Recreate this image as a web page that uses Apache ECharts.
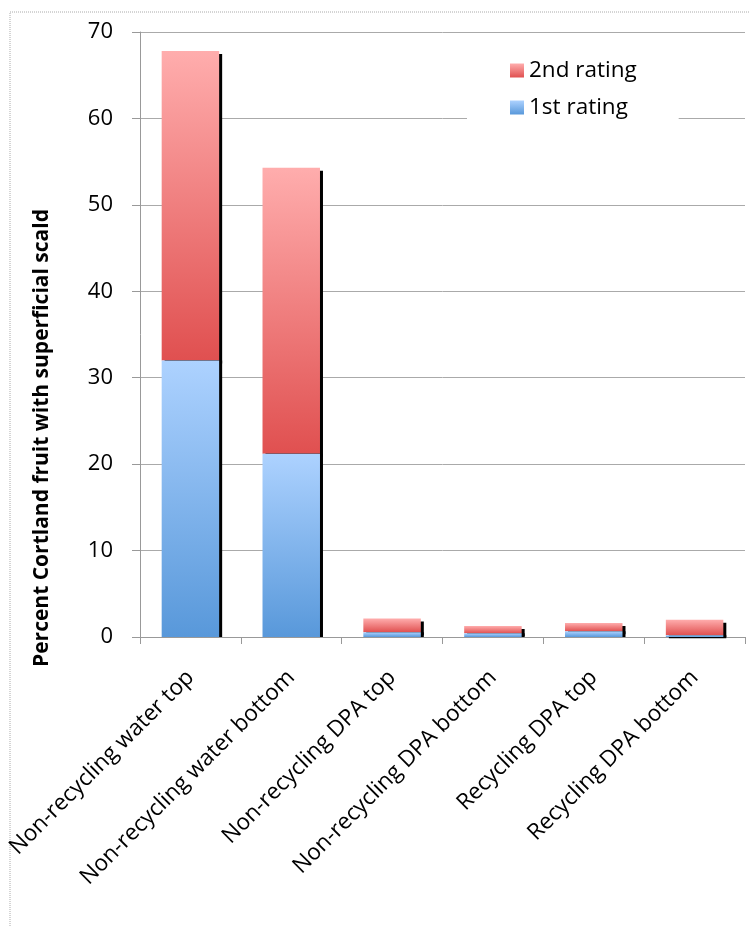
<!DOCTYPE html>
<html><head><meta charset="utf-8">
<script src="https://cdn.jsdelivr.net/npm/echarts@6/dist/echarts.min.js"></script>
<style>html,body{margin:0;padding:0;background:#fff}#c{width:750px;height:926px}</style>
</head><body><div id="c"></div>
<script>
const categories = ['Non-recycling water top','Non-recycling water bottom','Non-recycling DPA top','Non-recycling DPA bottom','Recycling DPA top','Recycling DPA bottom'];
const firstRating = [32.0, 21.2, 0.55, 0.42, 0.66, 0.2];
const secondRating = [35.8, 33.1, 1.58, 0.85, 0.96, 1.81];
const yTicks = {min: 0, max: 70, interval: 10};
const yTitle = 'Percent Cortland fruit with superficial scald';
const FONT = 'Open Sans';

const redGrad = new echarts.graphic.LinearGradient(0,0,0,1,[{offset:0,color:'#FFADAD'},{offset:1,color:'#E05050'}]);
const blueGrad = new echarts.graphic.LinearGradient(0,0,0,1,[{offset:0,color:'#ADD2FF'},{offset:1,color:'#5898DA'}]);

const chart = echarts.init(document.getElementById('c'));
chart.setOption({
  animation: false,
  backgroundColor: '#fff',
  textStyle: {fontFamily: FONT},
  grid: {left: 140, right: 5, top: 32, bottom: 289, containLabel: false},
  legend: {
    data: ['2nd rating','1st rating'],
    orient: 'vertical', left: 467, top: 57,
    itemWidth: 14, itemHeight: 14, itemGap: 14,
    backgroundColor: '#fff', padding: [2, 42, 2, 43],
    icon: 'rect',
    textStyle: {fontFamily: FONT, fontSize: 22.5, color: '#000'}
  },
  xAxis: {
    type: 'category', data: categories,
    axisLine: {lineStyle: {color: '#999', width: 1}},
    axisTick: {show: true, length: 7, lineStyle: {color: '#999'}},
    axisLabel: {interval: 0, rotate: 45, fontSize: 22.5, color: '#000', margin: 37, fontFamily: FONT}
  },
  yAxis: {
    type: 'value', min: yTicks.min, max: yTicks.max, interval: yTicks.interval,
    axisLine: {show: true, lineStyle: {color: '#999'}},
    axisTick: {show: true, length: 8, lineStyle: {color: '#999'}},
    axisLabel: {fontSize: 22, color: '#000', margin: 27, fontFamily: FONT},
    splitLine: {lineStyle: {color: '#aaa', width: 1}}
  },
  series: [
    {name: '1st rating', type: 'bar', stack: 's', data: firstRating, barWidth: '57%', z: 3,
     itemStyle: {color: blueGrad, shadowColor: '#000', shadowOffsetX: 3, shadowOffsetY: 0, shadowBlur: 0}},
    {name: '2nd rating', type: 'bar', stack: 's', data: secondRating, barWidth: '57%', z: 2,
     itemStyle: {color: redGrad, shadowColor: '#000', shadowOffsetX: 3, shadowOffsetY: 3, shadowBlur: 0}}
  ],
  graphic: [
    {type: 'rect', shape: {x: 10, y: 12, width: 780, height: 960}, style: {fill: 'none', stroke: '#aaa', lineWidth: 1, lineDash: [1,1]}, silent: true},
    {type: 'text', x: 42, y: 438, rotation: Math.PI/2, style: {text: yTitle, fontFamily: FONT, fontWeight: 'bold', fontSize: 21, fill: '#000', align: 'center', verticalAlign: 'middle'}}
  ]
});
</script></body></html>
